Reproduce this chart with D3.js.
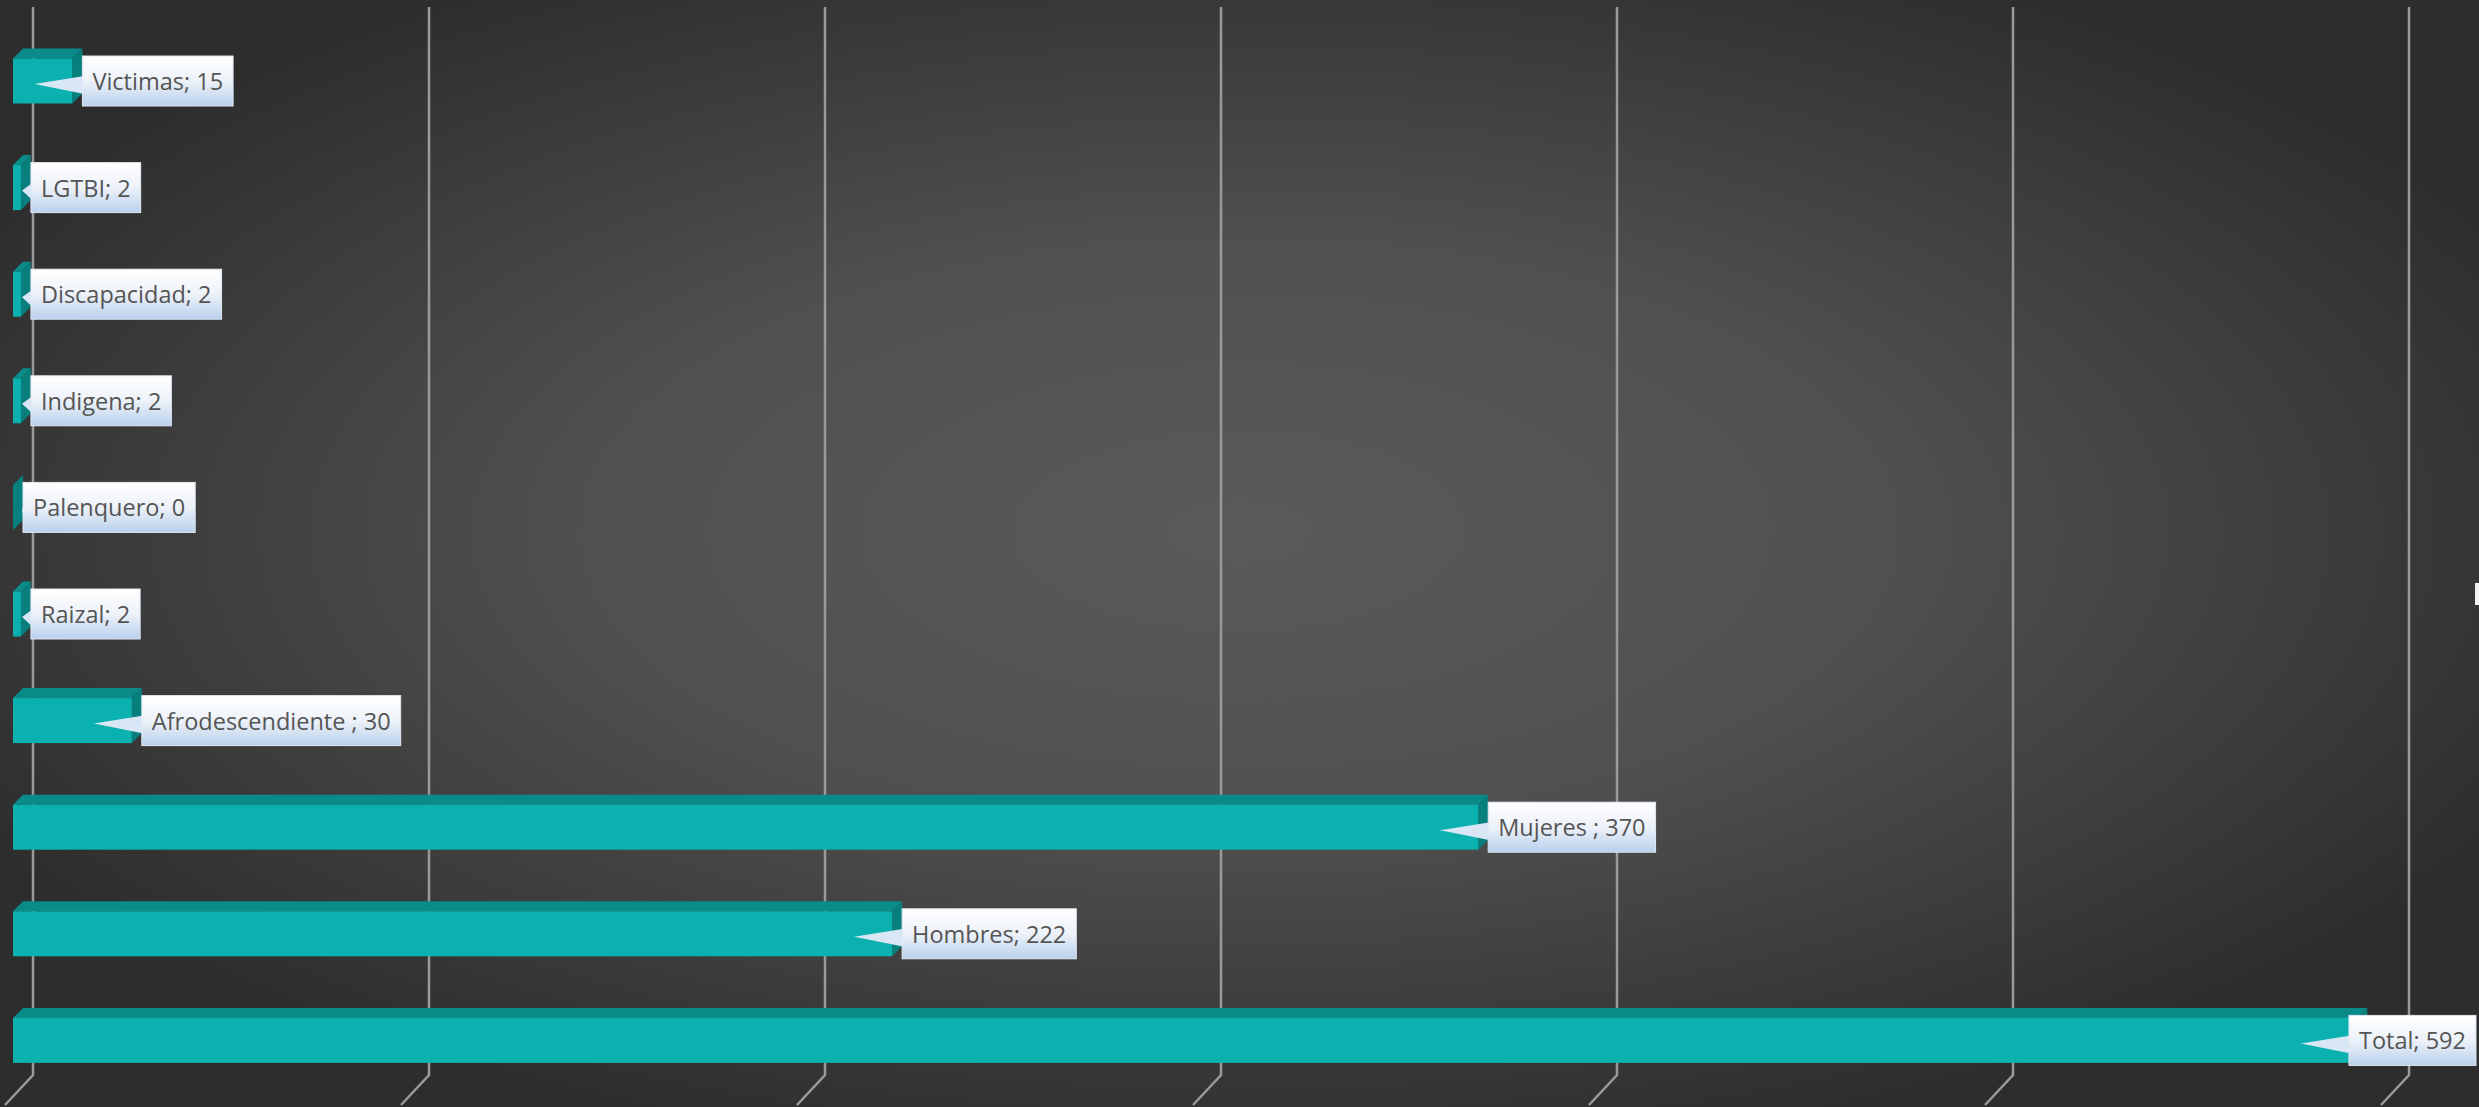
<!DOCTYPE html>
<html>
<head>
<meta charset="utf-8">
<script src="https://cdn.jsdelivr.net/npm/d3@7"></script>
<style>
  html, body { margin: 0; padding: 0; background: #2d2d2d; overflow: hidden; }
  text { white-space: pre; }
</style>
</head>
<body>
<div id="chart"></div>
<script>
// Data (top to bottom as drawn)
const categories = ["Victimas", "LGTBI", "Discapacidad", "Indigena", "Palenquero", "Raizal", "Afrodescendiente ", "Mujeres ", "Hombres", "Total"];
const values = [15, 2, 2, 2, 0, 2, 30, 370, 222, 592];
const axisTicks = [0, 100, 200, 300, 400, 500, 600];

const W = 2479, H = 1107;
const depthX = 10, depthY = 10;   // 3D offset of the bars
const wallX = 20;                 // back wall offset from the bar fronts

const svg = d3.select("#chart")
    .append("svg")
    .attr("width", W)
    .attr("height", H);

const defs = svg.append("defs");

// background gradient
const bg = defs.append("radialGradient")
    .attr("id", "bgGrad")
    .attr("cx", "0.5").attr("cy", "0.48").attr("r", "0.58");
bg.append("stop").attr("offset", "0").attr("stop-color", "#5a5a5a");
bg.append("stop").attr("offset", "0.45").attr("stop-color", "#505050");
bg.append("stop").attr("offset", "1").attr("stop-color", "#2d2d2d");

// label box gradient
const lg = defs.append("linearGradient")
    .attr("id", "lblGrad")
    .attr("x1", 0).attr("y1", 0).attr("x2", 0).attr("y2", 1);
lg.append("stop").attr("offset", "0").attr("stop-color", "#ffffff");
lg.append("stop").attr("offset", "0.5").attr("stop-color", "#edf2f9");
lg.append("stop").attr("offset", "1").attr("stop-color", "#b9d0ec");

svg.append("rect")
    .attr("width", W)
    .attr("height", H)
    .attr("fill", "url(#bgGrad)");

// Scales
const xScale = d3.scaleLinear().domain([0, 600]).range([13, 2389]);
const yScale = d3.scaleBand().domain(categories).range([27.7, 1093.7]);
const frontH = 45;

// Gridlines on the back wall, bending onto the floor
svg.append("g")
    .selectAll("path")
    .data(axisTicks)
    .enter()
    .append("path")
    .attr("d", d => {
        const bx = xScale(d) + wallX;
        return `M${bx},7 V1075 L${bx - 28},1105`;
    })
    .attr("fill", "none")
    .attr("stroke", "#9a9a9a")
    .attr("stroke-width", 2.5);

// Bars
const rows = categories.map((c, i) => ({ cat: c, value: values[i] }));

const bars = svg.append("g")
    .selectAll(".bar")
    .data(rows)
    .enter()
    .append("g")
    .attr("class", "bar");

bars.each(function(d) {
    const g = d3.select(this);
    const cy = yScale(d.cat) + yScale.bandwidth() / 2;
    const x0 = xScale(0), x1 = xScale(d.value);
    const top = cy - frontH / 2, bot = cy + frontH / 2;

    // top face
    g.append("path")
        .attr("d", `M${x0},${top} L${x0 + depthX},${top - depthY} L${x1 + depthX},${top - depthY} L${x1},${top} Z`)
        .attr("fill", "#0a8b89");
    // side face
    g.append("path")
        .attr("d", `M${x1},${top} L${x1 + depthX},${top - depthY} L${x1 + depthX},${bot - depthY} L${x1},${bot} Z`)
        .attr("fill", "#077f7d");
    // front face
    g.append("rect")
        .attr("x", x0)
        .attr("y", top)
        .attr("width", x1 - x0)
        .attr("height", frontH)
        .attr("fill", "#0ab1af");
});

// Data callouts
const labels = svg.append("g")
    .selectAll(".lbl")
    .data(rows)
    .enter()
    .append("g")
    .attr("class", "lbl");

labels.each(function(d) {
    const g = d3.select(this);
    const cy = yScale(d.cat) + yScale.bandwidth() / 2;
    const pad = 10, boxH = 50;

    const wedge = g.append("path");
    const box = g.append("rect");
    const txt = g.append("text")
        .text(`${d.cat}; ${d.value}`)
        .attr("font-family", "'Open Sans', sans-serif")
        .attr("font-size", "23.5px")
        .attr("fill", "#555555");

    const tw = txt.node().getComputedTextLength();
    const boxW = tw + pad * 2;
    const boxX = Math.min(xScale(d.value) + depthX, W - 3 - boxW);
    const tipX = Math.max(boxX - 48, 22);

    wedge.attr("d", `M${tipX},${cy + 3} L${boxX + 2},${cy - 5} L${boxX + 2},${cy + 13} Z`)
        .attr("fill", "#d9e6f5");

    box.attr("x", boxX)
        .attr("y", cy - boxH / 2)
        .attr("width", boxW)
        .attr("height", boxH)
        .attr("fill", "url(#lblGrad)")
        .attr("stroke", "#dfe8f3")
        .attr("stroke-width", 1);

    txt.attr("x", boxX + pad)
        .attr("y", cy + 9);
});

// small cut-off element at the right edge
svg.append("rect")
    .attr("x", W - 4).attr("y", 583)
    .attr("width", 4).attr("height", 22)
    .attr("fill", "#f2f2f2");
</script>
</body>
</html>
